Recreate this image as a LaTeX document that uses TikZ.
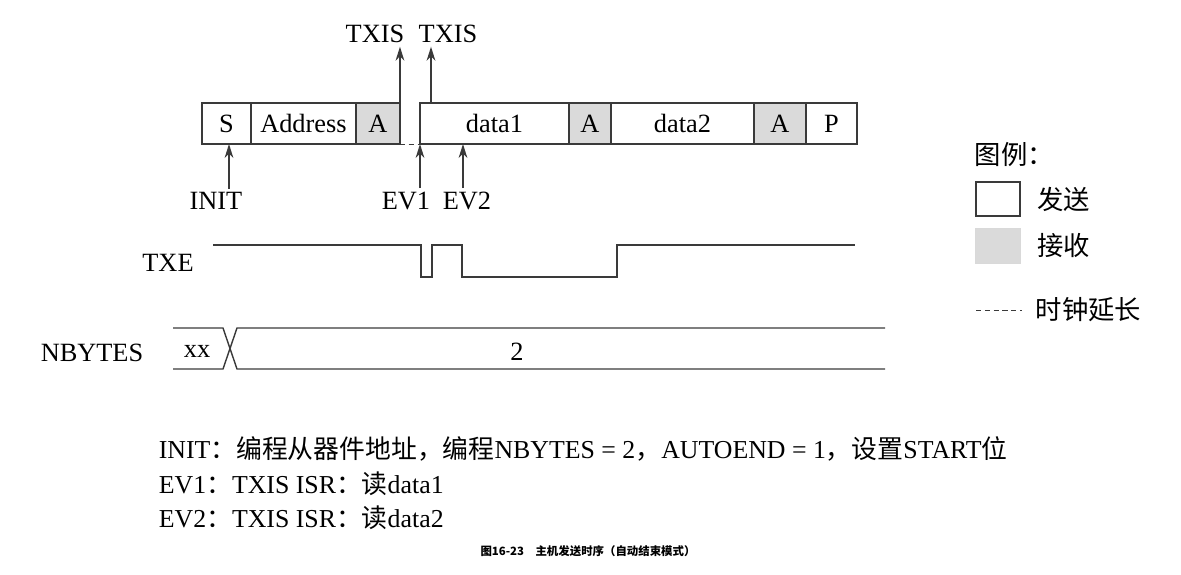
\documentclass[tikz,border=0pt]{standalone}
\usepackage{fontspec}
\setmainfont{Liberation Serif}
\newfontfamily\cjk{Noto Sans CJK SC}
\usepackage{xcolor}
\usetikzlibrary{positioning,arrows.meta}
\definecolor{linec}{HTML}{3A3A3A}
\definecolor{rxgray}{HTML}{DADADA}

\begin{document}
\begin{tikzpicture}[x=0.02cm, y=-0.02cm,
  field/.style={draw=linec, line width=0.8pt, minimum height=0.82cm,
    inner sep=0pt, outer sep=0pt, anchor=west, font=\fontsize{15}{18}\selectfont},
  rx/.style={field, fill=rxgray},
  lbl/.style={font=\fontsize{15}{18}\selectfont, inner sep=2pt},
  note/.style={font=\fontsize{14.7}{18}\selectfont, inner sep=2pt, anchor=west},
  ar/.style={-{Stealth[length=8pt,width=5pt]}, line width=0.8pt, draw=linec},
  wave/.style={line width=0.8pt, draw=linec},
  stretch/.style={draw=linec, line width=0.5pt, dash pattern=on 3pt off 2pt}
]
\useasboundingbox (0,0) rectangle (1181,575);
\node[field, minimum width=0.98cm] (s) at (202,123.5) {S};
\node[field, minimum width=2.10cm, right=0pt of s] (addr) {Address};
\node[rx, minimum width=0.88cm, right=0pt of addr] (a1) {A};
\node[field, minimum width=2.98cm] (d1) at (420,123.5) {data1};
\node[rx, minimum width=0.84cm, right=0pt of d1] (a2) {A};
\node[field, minimum width=2.86cm, right=0pt of a2] (d2) {data2};
\node[rx, minimum width=1.04cm, right=0pt of d2] (a3) {A};
\node[field, minimum width=1.02cm, right=0pt of a3] (p) {P};
\draw[stretch] (a1.south east) -- (d1.south west);

\node[lbl] (tx1) at (375,34) {TXIS};
\node[lbl] (tx2) at (448,34) {TXIS};
\draw[ar] (a1.north east) -- (a1.north east |- tx1.south);
\draw[ar] ([xshift=0.22cm]d1.north west) -- ([xshift=0.22cm]d1.north west |- tx2.south);

\node[lbl] (init) at (216,201) {INIT};
\node[lbl] (ev1) at (406,201) {EV1};
\node[lbl] (ev2) at (467,201) {EV2};
\draw[ar] ([xshift=0.05cm]s.south |- init.north) -- ([xshift=0.05cm]s.south);
\draw[ar] (d1.south west |- ev1.north) -- (d1.south west);
\draw[ar] ([xshift=0.86cm]d1.south west |- ev2.north) -- ([xshift=0.86cm]d1.south west);

\node[lbl] (txe) at (168,263) {TXE};
\draw[wave] (213,245) -- (421,245) -- (421,277) -- (432,277) -- (432,245)
  -- (462,245) -- (462,277) -- (617,277) -- (617,245) -- (855,245);

\node[lbl] (nbytes) at (92,353) {NBYTES};
\node[lbl] (xx) at (197,351) {xx};
\node[lbl] (two) at (517,352) {2};
\draw[wave] (173,328) -- (223,328) -- (237,369) -- (885,369);
\draw[wave] (173,369) -- (223,369) -- (237,328) -- (885,328);

\node[lbl, anchor=west] (lgd) at (971,155) {\cjk 图例：};
\node[draw=linec, line width=0.8pt, minimum width=0.88cm, minimum height=0.68cm,
  inner sep=0pt] (ktx) at (998,199) {};
\node[draw=black!15, fill=rxgray, minimum width=0.9cm, minimum height=0.7cm,
  inner sep=0pt] (krx) at (998,246) {};
\node[lbl, right=0.25cm of ktx] (ltx) {\cjk 发送};
\node[lbl, right=0.25cm of krx] (lrx) {\cjk 接收};
\coordinate (kd1) at (976,310);
\coordinate (kd2) at (1022,310);
\draw[stretch] (kd1) -- (kd2);
\node[lbl, right=0.2cm of kd2] (lst) {\cjk 时钟延长};

\node[note] (n1) at (155,449)
  {INIT{\cjk ：编程从器件地址，编程}NBYTES = 2{\cjk ，}AUTOEND = 1{\cjk ，设置}START{\cjk 位}};
\node[note] (n2) at (155,484) {EV1{\cjk ：}TXIS ISR{\cjk ：读}data1};
\node[note] (n3) at (155,518) {EV2{\cjk ：}TXIS ISR{\cjk ：读}data2};
\node[font=\fontsize{6.5}{8}\selectfont\bfseries] (cap) at (588,551)
  {\cjk 图16-23\quad 主机发送时序（自动结束模式）};
\end{tikzpicture}
\end{document}
